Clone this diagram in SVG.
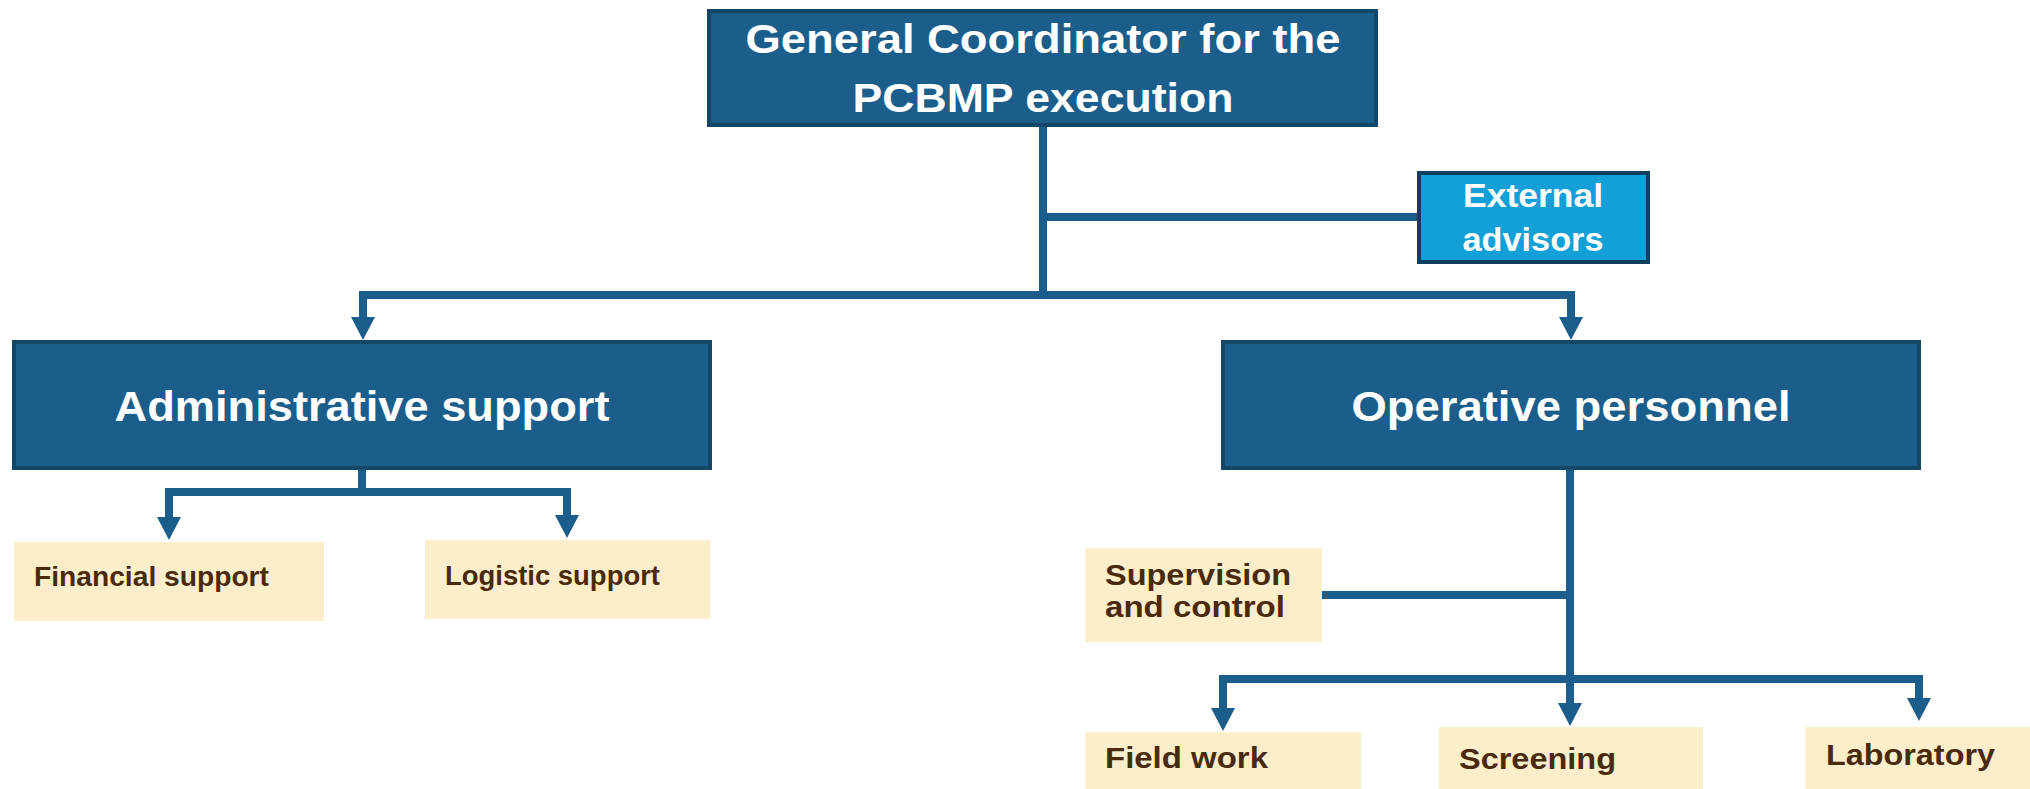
<svg xmlns="http://www.w3.org/2000/svg" width="2030" height="789" viewBox="0 0 2030 789">
<style>
.main{fill:#1B5E8C;stroke:#144766;stroke-width:4}
.ext{fill:#139FD7;stroke:#0F3F5E;stroke-width:4}
.sub{fill:#FCEECB}
.wt{font-family:"Liberation Sans",Arial,sans-serif;font-weight:bold;fill:#FFFFFF}
.bt{font-family:"Liberation Sans",Arial,sans-serif;font-weight:bold;fill:#4A2A0C}
.con{fill:none;stroke:#1B5E8C;stroke-width:8;stroke-linejoin:miter}
</style>
<defs>
<marker id="arr" markerUnits="userSpaceOnUse" markerWidth="24" markerHeight="24" viewBox="0 0 24 24" refX="1" refY="12" orient="auto" overflow="visible">
<path d="M0,0 L23,12 L0,24 z" fill="#1B5E8C"/>
</marker>
</defs>
<g id="connectors">
<path class="con" d="M1043,126 V295"/>
<path class="con" d="M1043,217 H1418"/>
<path class="con" d="M1043,295 H363 V318" marker-end="url(#arr)"/>
<path class="con" d="M1043,295 H1571 V318" marker-end="url(#arr)"/>
<path class="con" d="M362,469 V492"/>
<path class="con" d="M362,492 H169 V518" marker-end="url(#arr)"/>
<path class="con" d="M362,492 H567 V516" marker-end="url(#arr)"/>
<path class="con" d="M1570,469 V679"/>
<path class="con" d="M1322,595 H1570"/>
<path class="con" d="M1570,679 H1223 V709" marker-end="url(#arr)"/>
<path class="con" d="M1570,679 V704" marker-end="url(#arr)"/>
<path class="con" d="M1570,679 H1919 V699" marker-end="url(#arr)"/>
</g>
<g id="general-coordinator">
<rect class="main" x="709" y="11" width="667" height="114"/>
<text class="wt" x="1043" y="53" font-size="41" text-anchor="middle" textLength="595" lengthAdjust="spacingAndGlyphs">General Coordinator for the</text>
<text class="wt" x="1043" y="112" font-size="41" text-anchor="middle" textLength="381" lengthAdjust="spacingAndGlyphs">PCBMP execution</text>
</g>
<g id="external-advisors">
<rect class="ext" x="1419" y="173" width="229" height="89"/>
<text class="wt" x="1533" y="207" font-size="33" text-anchor="middle" textLength="140" lengthAdjust="spacingAndGlyphs">External</text>
<text class="wt" x="1533" y="251" font-size="33" text-anchor="middle" textLength="141" lengthAdjust="spacingAndGlyphs">advisors</text>
</g>
<g id="administrative-support">
<rect class="main" x="14" y="342" width="696" height="126"/>
<text class="wt" x="362" y="421" font-size="43" text-anchor="middle" textLength="495" lengthAdjust="spacingAndGlyphs">Administrative support</text>
</g>
<g id="operative-personnel">
<rect class="main" x="1223" y="342" width="696" height="126"/>
<text class="wt" x="1571" y="421" font-size="43" text-anchor="middle" textLength="439" lengthAdjust="spacingAndGlyphs">Operative personnel</text>
</g>
<g id="financial-support">
<rect class="sub" x="14" y="542" width="310" height="79"/>
<text class="bt" x="34" y="586" font-size="27" textLength="235" lengthAdjust="spacingAndGlyphs">Financial support</text>
</g>
<g id="logistic-support">
<rect class="sub" x="425" y="540" width="285" height="79"/>
<text class="bt" x="445" y="585" font-size="27" textLength="215" lengthAdjust="spacingAndGlyphs">Logistic support</text>
</g>
<g id="supervision-and-control">
<rect class="sub" x="1085" y="548" width="237" height="94"/>
<text class="bt" x="1105" y="585" font-size="29" textLength="186" lengthAdjust="spacingAndGlyphs">Supervision</text>
<text class="bt" x="1105" y="617" font-size="29" textLength="180" lengthAdjust="spacingAndGlyphs">and control</text>
</g>
<g id="field-work">
<rect class="sub" x="1085" y="732" width="276" height="70"/>
<text class="bt" x="1105" y="768" font-size="29" textLength="163" lengthAdjust="spacingAndGlyphs">Field work</text>
</g>
<g id="screening">
<rect class="sub" x="1439" y="727" width="264" height="75"/>
<text class="bt" x="1459" y="769" font-size="29" textLength="157" lengthAdjust="spacingAndGlyphs">Screening</text>
</g>
<g id="laboratory">
<rect class="sub" x="1805" y="727" width="230" height="75"/>
<text class="bt" x="1826" y="765" font-size="29" textLength="169" lengthAdjust="spacingAndGlyphs">Laboratory</text>
</g>
</svg>
